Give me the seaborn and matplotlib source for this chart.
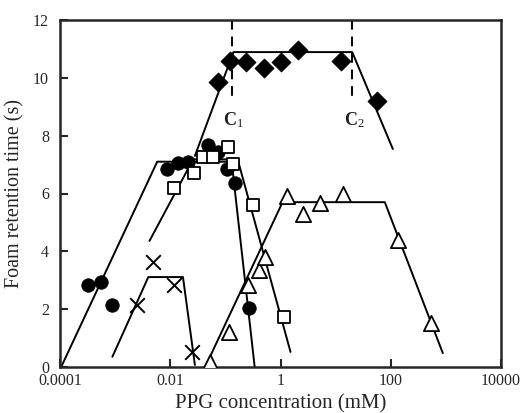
import numpy as np
import pandas as pd
import matplotlib
matplotlib.use("Agg")
import matplotlib.pyplot as plt
import seaborn as sns

# ---- data ----
diamond_x = [0.072, 0.123, 0.24, 0.51, 1.04, 2.1, 12.3, 56]
diamond_y = [9.85, 10.58, 10.55, 10.34, 10.55, 10.96, 10.58, 9.2]
diamond_fit_x = [0.028, 0.14, 20, 109]
diamond_fit_y = [7.3, 10.89, 10.89, 7.54]

circle_x = [0.000323, 0.00056, 0.00089, 0.0089, 0.014, 0.021, 0.049, 0.074, 0.109, 0.15, 0.27]
circle_y = [2.84, 2.94, 2.14, 6.85, 7.05, 7.09, 7.68, 7.43, 6.85, 6.36, 2.04]
circle_fit_x = [0.000105, 0.0058, 0.13, 0.34]
circle_fit_y = [0.0, 7.1, 7.1, 0.0]

square_x = [0.0118, 0.027, 0.040, 0.060, 0.113, 0.14, 0.32, 1.18]
square_y = [6.19, 6.7, 7.26, 7.26, 7.6, 7.02, 5.6, 1.73]
square_fit_x = [0.0042, 0.026, 0.167, 1.52]
square_fit_y = [4.36, 7.18, 7.18, 0.52]

triangle_x = [0.053, 0.114, 0.26, 0.4, 0.53, 1.29, 2.6, 5.1, 13.4, 134, 533]
triangle_y = [0.17, 1.21, 2.84, 3.35, 3.8, 5.9, 5.3, 5.67, 6.0, 4.39, 1.52]
triangle_fit_x = [0.043, 1.09, 78, 880]
triangle_fit_y = [0.0, 5.7, 5.7, 0.48]

cross_x = [0.0025, 0.0049, 0.0118, 0.025]
cross_y = [2.14, 3.63, 2.84, 0.52]
cross_fit_x = [0.00089, 0.004, 0.017, 0.028]
cross_fit_y = [0.35, 3.11, 3.11, 0.07]

c_labels = ["C$_1$", "C$_2$"]
c_x = [0.133, 20]

x_ticks = [0.0001, 0.01, 1, 100, 10000]
x_ticklabels = ["0.0001", "0.01", "1", "100", "10000"]
y_ticks = [0, 2, 4, 6, 8, 10, 12]

# ---- style ----
sns.set_style("ticks")
plt.rcParams["font.family"] = ["Liberation Serif", "DejaVu Serif"]
plt.rcParams["mathtext.fontset"] = "custom"
plt.rcParams["mathtext.rm"] = "Liberation Serif"
plt.rcParams["mathtext.it"] = "Liberation Serif"
plt.rcParams["mathtext.bf"] = "Liberation Serif:bold"

fig = plt.figure(figsize=(5.27, 4.13), dpi=100)
ax = fig.add_axes([60 / 527, 1 - 367 / 413, 441 / 527, 347 / 413])

lw = 1.4
fits = [
    (diamond_fit_x, diamond_fit_y),
    (circle_fit_x, circle_fit_y),
    (square_fit_x, square_fit_y),
    (triangle_fit_x, triangle_fit_y),
    (cross_fit_x, cross_fit_y),
]
for fx, fy in fits:
    d = pd.DataFrame({"x": fx, "y": fy})
    sns.lineplot(data=d, x="x", y="y", ax=ax, sort=False, estimator=None,
                 color="black", linewidth=lw, legend=False)

# dashed C1 / C2 markers
for cx in c_x:
    ax.plot([cx, cx], [12, 9.25], color="black", linestyle=(0, (5, 3.5)), linewidth=1.4)

# markers
sns.scatterplot(x=diamond_x, y=diamond_y, ax=ax, marker="D", s=95,
                color="black", edgecolor="black", linewidth=0.5, zorder=5)
sns.scatterplot(x=circle_x, y=circle_y, ax=ax, marker="o", s=95,
                color="black", edgecolor="black", linewidth=0.5, zorder=5)
sns.scatterplot(x=square_x, y=square_y, ax=ax, marker="s", s=85,
                facecolor="white", edgecolor="black", linewidth=1.3, zorder=5)
sns.scatterplot(x=triangle_x, y=triangle_y, ax=ax, marker="^", s=120,
                facecolor="white", edgecolor="black", linewidth=1.3, zorder=5)
sns.scatterplot(x=cross_x, y=cross_y, ax=ax, marker="x", s=110,
                color="black", linewidth=1.4, zorder=5)

for lab, cx in zip(c_labels, c_x):
    ax.text(cx * 1.07, 8.55, lab, ha="center", va="center", fontsize=13,
            fontweight="bold", color="#222222")

ax.set_xscale("log")
ax.set_xlim(0.0001, 10000)
ax.set_ylim(0, 12)
ax.set_xticks(x_ticks)
ax.set_xticklabels(x_ticklabels)
ax.xaxis.set_minor_locator(matplotlib.ticker.NullLocator())
ax.set_yticks(y_ticks)
ax.tick_params(direction="in", length=6, width=1.5, labelsize=11.5,
               top=False, right=False)
ax.tick_params(axis="x", pad=4)
ax.tick_params(axis="y", pad=8)
for sp in ax.spines.values():
    sp.set_linewidth(1.8)
    sp.set_visible(True)

ax.set_xlabel("PPG concentration (mM)", fontsize=15, labelpad=4)
ax.set_ylabel("Foam retention time (s)", fontsize=14.5, labelpad=6)

fig.savefig("out.png", dpi=100)
